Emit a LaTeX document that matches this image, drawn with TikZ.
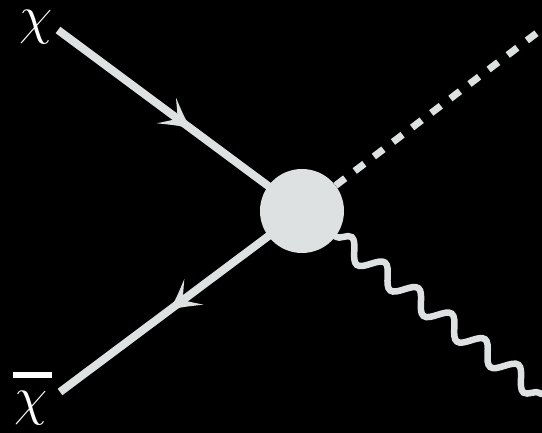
\documentclass[tikz,border=0pt]{standalone}
\usetikzlibrary{decorations.markings,decorations.pathmorphing}
\definecolor{linegray}{RGB}{222,225,225}
\begin{document}
\begin{tikzpicture}[x=1pt,y=-1pt,
  fermion/.style={draw=linegray,line width=8pt,postaction={decorate},
    decoration={markings,mark=at position 162pt with {\barbhead}}},
  scalar/.style={draw=linegray,line width=7pt,dash pattern=on 12pt off 12pt},
  photon/.style={draw=linegray,line width=6.5pt,line cap=round,
    decorate,decoration={snake,segment length=42pt,amplitude=9.5pt}},
  lbl/.style={text=white,inner sep=0pt,font=\Huge,scale=2.17,anchor=base west}]
\def\barbhead{\fill[linegray] (3pt,0pt) .. controls (-10pt,6pt) .. (-27pt,16pt)
  .. controls (-19pt,7pt) .. (-13pt,0pt) .. controls (-19pt,-7pt) .. (-27pt,-16pt)
  .. controls (-10pt,-6pt) .. (3pt,0pt) -- cycle;}
\fill[black] (0,0) rectangle (542,433);
\clip (0,0) rectangle (542,433);
\coordinate (a) at (58,30);
\coordinate (b) at (60,392);
\coordinate (c) at (302,211);
\coordinate (s) at (575,4);
\coordinate (w) at (541,394);
\draw[fermion] (a) -- (c);
\draw[fermion] (c) -- (b);
\node[circle,fill=linegray,minimum size=84pt,inner sep=0pt] (blob) at (c) {};
\draw[scalar] (blob) -- (s);
\draw[photon] (blob) -- (w);
\node[lbl] (chi) at (19,34) {$\chi$};
\node[lbl] (chibar) at (14,415) {\rlap{\hspace{-0.6pt}\raisebox{17pt}{\rule{18pt}{2.8pt}}}$\chi$};
\end{tikzpicture}
\end{document}
